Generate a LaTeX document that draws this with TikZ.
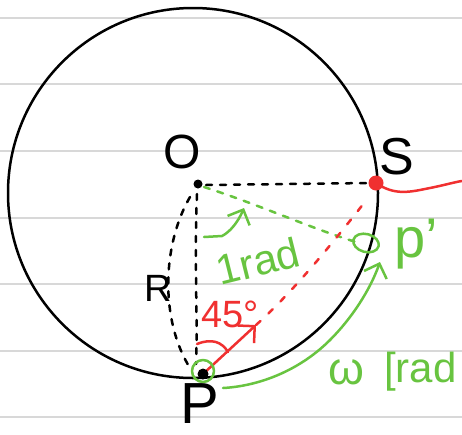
\documentclass[tikz,border=0pt]{standalone}
\usepackage{fontspec}
\setmainfont{Liberation Sans}
\usetikzlibrary{arrows.meta}
\definecolor{gr}{RGB}{104,196,64}
\definecolor{rd}{RGB}{240,48,48}
\definecolor{rule}{RGB}{216,216,216}
\tikzset{
  ruleline/.style={draw=rule,line width=2.6pt},
  ink/.style={line width=2.5pt,line cap=round,line join=round},
  blk/.style={ink,black},
  dsh/.style={ink,dash pattern=on 6pt off 8pt},
  openhead/.style={-{Straight Barb[length=12pt,width=24pt,line width=2.5pt]}},
  lbl/.style={inner sep=0pt,font=\fontsize{#1}{#1}\selectfont},
}
\begin{document}
\begin{tikzpicture}[x=1pt,y=-1pt]
\useasboundingbox (0,0) rectangle (462,434);
\fill[white] (0,0) rectangle (462,434);
% ruled paper
\foreach \yy in {18,84,151,218,284,351,417} \draw[ruleline] (0,\yy) -- (462,\yy);
% circle
\draw[blk] (193,193) circle[radius=185];
% points
\coordinate (O) at (198,184);
\coordinate (S) at (376,183);
\coordinate (P) at (203,374);
\coordinate (Pp) at (366,243);
\coordinate (Tip) at (256,325);
% dashed lines
\draw[blk,dsh] (206,185) -- (370,183);
\draw[blk,dsh] (197,194) .. controls (194,260) and (198,320) .. (196,364);
\draw[blk,dsh] (190,197) .. controls (162,245) and (160,320) .. (190,368);
\draw[gr,ink,dsh] (204,187) .. controls (260,205) and (310,228) .. (356,242);
\draw[rd,ink,dash pattern=on 6pt off 11pt] (Tip) .. controls (295,290) and (335,240) .. (368,198);
% red arrow and angle
\draw[rd,ink,openhead] (P) -- (Tip);
\draw[rd,ink] (197,344) .. controls (212,338) and (222,342) .. (228,352);
% red tail from S
\draw[rd,ink] (S) .. controls (395,196) and (410,192) .. (430,188) .. controls (445,185) and (455,182) .. (462,181);
% dots
\fill[black] (O) circle[radius=4.5];
\fill[rd] (S) circle[radius=7.5];
\fill[black] (P) circle[radius=5.5];
\draw[gr,ink] (203,371) circle[radius=11];
\draw[gr,ink,rotate around={-15:(Pp)}] (Pp) ellipse[x radius=13,y radius=9];
% green arrows
\draw[gr,ink,openhead] (204,237) -- (222,236) .. controls (230,232) and (238,222) .. (244,208);
\draw[gr,ink,openhead] (223,388) .. controls (260,386) and (300,370) .. (330,340) .. controls (352,318) and (370,290) .. (380,262);
% labels
\node[lbl=48] (Ol) at (182,152) {O};
\node[lbl=52] (Sl) at (397,157) {S};
\node[lbl=58] (Pl) at (200,404) {P};
\node[lbl=56,gr] (Ppl) at (416,244) {p\textquoteright};
\node[lbl=38] (Rl) at (158,288) {R};
\node[lbl=38,rd] (ang) at (230,314) {45°};
\node[lbl=42,gr,rotate=14] (rad) at (258,261) {1rad};
\node[lbl=46,gr] (w) at (346,372) {ω};
\node[lbl=42,gr,anchor=west] (w2) at (384,372) {[rad};
\end{tikzpicture}
\end{document}
